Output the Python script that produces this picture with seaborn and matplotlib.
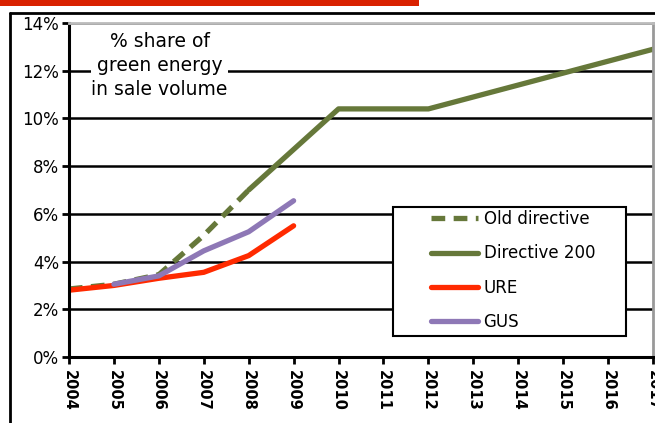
import matplotlib
matplotlib.use("Agg")
import matplotlib.pyplot as plt
import seaborn as sns
import pandas as pd
from matplotlib.lines import Line2D
from matplotlib.patches import Rectangle
from matplotlib.ticker import FuncFormatter

# data (share of green energy, %)
old_years = [2004, 2005, 2006, 2007, 2008]
old_share = [2.85, 3.05, 3.45, 5.1, 7.0]

dir_years = [2008, 2009, 2010, 2011, 2012, 2013, 2014, 2015, 2016, 2017]
dir_share = [7.0, 8.7, 10.4, 10.4, 10.4, 10.9, 11.4, 11.9, 12.4, 12.9]

ure_years = [2004, 2005, 2006, 2007, 2008, 2009]
ure_share = [2.8, 3.0, 3.3, 3.55, 4.25, 5.5]

gus_years = [2005, 2006, 2007, 2008, 2009]
gus_share = [3.05, 3.4, 4.45, 5.25, 6.55]

year_ticks = list(range(2004, 2018))

green = "#66783a"
red = "#ff2a00"
purple = "#8e78b6"

sns.set_style("white")
plt.rcParams['font.family'] = ['DejaVu Sans']
for k in ['text.color', 'axes.labelcolor', 'xtick.color', 'ytick.color']:
    plt.rcParams[k] = 'black'

fig = plt.figure(figsize=(6.55, 4.23), dpi=100)
ax = fig.add_axes([0.1053, 0.156, 0.8917, 0.7896])

lw = 3.8
sns.lineplot(x=old_years, y=old_share, ax=ax, color=green, lw=lw,
             linestyle=(0, (2.6, 1.6)), label="Old directive")
sns.lineplot(x=dir_years, y=dir_share, ax=ax, color=green, lw=lw,
             label="Directive 200")
sns.lineplot(x=ure_years, y=ure_share, ax=ax, color=red, lw=lw, label="URE")
sns.lineplot(x=gus_years, y=gus_share, ax=ax, color=purple, lw=lw, label="GUS")

ax.set_xlim(2004, 2017)
ax.set_ylim(0, 14)
ax.set_yticks(range(0, 15, 2))
ax.yaxis.set_major_formatter(FuncFormatter(lambda v, p: f"{int(v)}%"))
ax.set_xticks(year_ticks)
ax.set_xticklabels([str(y) for y in year_ticks], rotation=-90,
                   fontsize=10.5, fontweight="bold")
ax.tick_params(axis="y", labelsize=12, length=5, width=2, color="black",
               left=True, pad=2)
ax.tick_params(axis="x", length=5, width=2, color="black", bottom=True, pad=4)
ax.grid(axis="y", color="black", lw=1.8)
ax.set_axisbelow(True)
for s in ["left", "bottom"]:
    ax.spines[s].set_color("black")
    ax.spines[s].set_linewidth(2.2)
ax.spines["top"].set_color("#bbbbbb")
ax.spines["top"].set_linewidth(2)
ax.spines["right"].set_color("#999999")
ax.spines["right"].set_linewidth(2)

ax.text(0.155, 0.972, "% share of\ngreen energy\nin sale volume", transform=ax.transAxes,
        ha="center", va="top", fontsize=13.5, linespacing=1.33,
        bbox=dict(facecolor="white", edgecolor="none", pad=0.5))

# legend box drawn separately so the entries can sit with a wide left margin
ax.add_patch(Rectangle((0.555, 0.063), 0.399, 0.386, transform=ax.transAxes,
                       facecolor="white", edgecolor="black", lw=1.5, zorder=3))
leg = ax.legend(loc="upper left", bbox_to_anchor=(0.620, 0.44),
                fontsize=12, handlelength=2.8, handletextpad=0.35,
                labelspacing=0.98, borderaxespad=0, borderpad=0, frameon=False)
leg.set_zorder(5)

# page decorations: red bar and black frame lines
fig.add_artist(Rectangle((0, 1 - 6 / 423), 419 / 655, 6 / 423, transform=fig.transFigure,
                         color="#d92100", lw=0))
fig.add_artist(Line2D([10 / 655, 1], [1 - 13 / 423, 1 - 13 / 423], transform=fig.transFigure,
                      color="black", lw=2))
fig.add_artist(Line2D([10 / 655, 10 / 655], [0, 1 - 13 / 423], transform=fig.transFigure,
                      color="black", lw=2))

fig.savefig("out.png", dpi=100)
